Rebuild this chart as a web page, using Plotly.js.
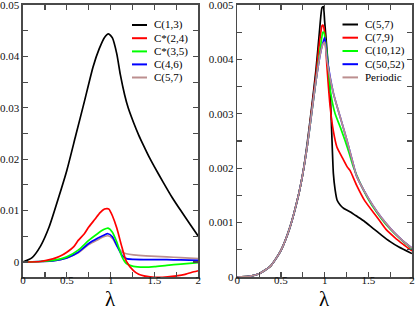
<!DOCTYPE html>
<html>
<head>
<meta charset="utf-8">
<script src="https://cdn.plot.ly/plotly-3.0.1.min.js"></script>
<style>html,body{margin:0;padding:0;background:#fff;}#chart{width:415px;height:310px;}</style>
</head>
<body>
<div id="chart"></div>
<script>
// ---------- Left panel data ----------
const leftNames = ['C(1,3)', 'C*(2,4)', 'C*(3,5)', 'C(4,6)', 'C(5,7)'];
const leftColors = ['#000000', '#ff0000', '#00ff00', '#0000ff', '#bc8f8f'];

const L_C13_x = [0, 0.1, 0.2, 0.3, 0.4, 0.5, 0.6, 0.7, 0.8, 0.87, 0.93, 0.975, 1.02, 1.07, 1.11, 1.16, 1.2, 1.26, 1.32, 1.38, 1.44, 1.5, 1.6, 1.7, 1.8, 1.9, 2.0];
const L_C13_y = [0, 0.0008, 0.0031, 0.0069, 0.0122, 0.0178, 0.0245, 0.0312, 0.038, 0.0415, 0.0437, 0.0444, 0.0436, 0.0405, 0.0365, 0.0325, 0.03, 0.0272, 0.0247, 0.0225, 0.0204, 0.0185, 0.0155, 0.0126, 0.01, 0.0075, 0.005];

const L_C24_x = [0, 0.2, 0.34, 0.42, 0.5, 0.58, 0.63, 0.7, 0.75, 0.82, 0.88, 0.93, 0.96, 0.98, 1.02, 1.07, 1.13, 1.18, 1.26, 1.32, 1.38, 1.45, 1.55, 1.65, 1.75, 1.85, 1.95, 2.0];
const L_C24_y = [0, 0.0001, 0.0006, 0.0011, 0.0019, 0.003, 0.0042, 0.0055, 0.0068, 0.0083, 0.0096, 0.0103, 0.0104, 0.0103, 0.009, 0.0066, 0.0028, 0.0001, -0.0017, -0.0024, -0.0027, -0.0029, -0.003, -0.0029, -0.0027, -0.0024, -0.0019, -0.0017];

const L_C35_x = [0, 0.2, 0.34, 0.5, 0.63, 0.75, 0.85, 0.92, 0.97, 1.02, 1.07, 1.13, 1.18, 1.26, 1.38, 1.5, 1.64, 1.8, 2.0];
const L_C35_y = [0, 0.0001, 0.0003, 0.001, 0.0023, 0.0042, 0.0055, 0.0063, 0.0066, 0.0058, 0.0039, 0.001, -0.0003, -0.00085, -0.001, -0.0009, -0.00065, -0.0004, -0.00013];

const L_C46_x = [0, 0.2, 0.34, 0.5, 0.63, 0.75, 0.85, 0.92, 0.97, 1.02, 1.07, 1.13, 1.18, 1.26, 1.4, 1.64, 1.8, 2.0];
const L_C46_y = [0, 0.0001, 0.0002, 0.0008, 0.0019, 0.0036, 0.0046, 0.0052, 0.0055, 0.0049, 0.0032, 0.0013, 0.00065, 0.0005, 0.00047, 0.00045, 0.0004, 0.0003];

const L_C57_x = [0, 0.2, 0.34, 0.5, 0.63, 0.75, 0.85, 0.92, 0.97, 1.02, 1.07, 1.13, 1.18, 1.26, 1.4, 1.64, 1.8, 2.0];
const L_C57_y = [0, 0.0001, 0.0002, 0.0008, 0.0018, 0.0034, 0.0043, 0.0049, 0.0051, 0.0046, 0.0032, 0.0019, 0.0016, 0.0014, 0.0012, 0.001, 0.00085, 0.00065];

// ---------- Right panel data ----------
const rightNames = ['C(5,7)', 'C(7,9)', 'C(10,12)', 'C(50,52)', 'Periodic'];
const rightColors = ['#000000', '#ff0000', '#00ff00', '#0000ff', '#bc8f8f'];

const R_C57_x = [0, 0.13, 0.25, 0.38, 0.5, 0.6, 0.7, 0.75, 0.8, 0.85, 0.9, 0.94, 0.97, 0.985, 1.0, 1.03, 1.063, 1.08, 1.1, 1.12, 1.143, 1.18, 1.22, 1.3, 1.355, 1.45, 1.55, 1.65, 1.75, 1.85, 2.0];
const R_C57_y = [0, 0.00001, 0.00006, 0.0002, 0.00049, 0.0009, 0.0015, 0.0019, 0.00245, 0.0031, 0.0038, 0.0045, 0.00495, 0.00497, 0.0047, 0.0041, 0.0034, 0.0027, 0.0019, 0.0016, 0.00141, 0.00132, 0.00126, 0.00119, 0.00113, 0.00103, 0.0009, 0.00077, 0.00065, 0.00055, 0.00043];

const R_C79_x = [0, 0.13, 0.25, 0.38, 0.5, 0.6, 0.7, 0.75, 0.8, 0.85, 0.9, 0.94, 0.97, 0.98, 1.0, 1.025, 1.063, 1.1, 1.14, 1.197, 1.26, 1.29, 1.365, 1.46, 1.6, 1.7, 1.8, 1.9, 2.0];
const R_C79_y = [0, 0.00001, 0.00006, 0.0002, 0.00049, 0.0009, 0.0015, 0.0019, 0.0024, 0.00305, 0.0037, 0.0043, 0.00462, 0.00463, 0.0045, 0.0039, 0.00313, 0.00268, 0.00239, 0.00221, 0.00202, 0.00196, 0.00169, 0.0014, 0.0011, 0.00088, 0.00073, 0.0006, 0.00048];

const R_C1012_x = [0, 0.13, 0.25, 0.38, 0.5, 0.6, 0.7, 0.75, 0.8, 0.85, 0.9, 0.95, 0.98, 0.99, 1.02, 1.04, 1.07, 1.12, 1.18, 1.235, 1.28, 1.33, 1.4, 1.5, 1.6, 1.7, 1.8, 1.9, 2.0];
const R_C1012_y = [0, 0.00001, 0.00006, 0.0002, 0.00049, 0.0009, 0.0015, 0.0019, 0.0024, 0.003, 0.0036, 0.0042, 0.0045, 0.0045, 0.0042, 0.0039, 0.00338, 0.003, 0.00275, 0.0025, 0.00228, 0.00202, 0.00175, 0.00143, 0.00118, 0.00097, 0.0008, 0.00065, 0.00052];

const R_C5052_x = [0, 0.13, 0.25, 0.38, 0.5, 0.6, 0.7, 0.75, 0.8, 0.85, 0.9, 0.95, 0.98, 1.0, 1.025, 1.1, 1.178, 1.254, 1.33, 1.365, 1.5, 1.6, 1.7, 1.8, 1.9, 2.0];
const R_C5052_y = [0, 0.00001, 0.00006, 0.0002, 0.00049, 0.0009, 0.0015, 0.0019, 0.0024, 0.003, 0.0036, 0.0041, 0.0043, 0.0044, 0.00405, 0.00338, 0.00294, 0.00252, 0.00206, 0.00186, 0.00145, 0.0012, 0.00099, 0.00081, 0.00066, 0.00053];

const R_Per_x = [0, 0.13, 0.25, 0.38, 0.5, 0.6, 0.7, 0.75, 0.8, 0.85, 0.9, 0.95, 0.98, 1.0, 1.025, 1.1, 1.178, 1.254, 1.33, 1.365, 1.5, 1.6, 1.7, 1.8, 1.9, 2.0];
const R_Per_y = [0, 0.00001, 0.00006, 0.0002, 0.00049, 0.0009, 0.0015, 0.0019, 0.0024, 0.003, 0.0036, 0.0041, 0.00428, 0.00432, 0.0040, 0.00338, 0.00294, 0.00252, 0.00206, 0.00186, 0.00145, 0.0012, 0.00099, 0.00081, 0.00066, 0.00053];

// ---------- Tick labels ----------
const xTickVals = [0, 0.25, 0.5, 0.75, 1, 1.25, 1.5, 1.75, 2];
const xTickText = ['0', '', '0.5', '', '1', '', '1.5', '', '2'];
const yLeftTickVals = [0, 0.005, 0.01, 0.015, 0.02, 0.025, 0.03, 0.035, 0.04, 0.045, 0.05];
const yLeftTickText = ['0', '', '0.01', '', '0.02', '', '0.03', '', '0.04', '', '0.05'];
const yRightTickVals = [0, 0.0005, 0.001, 0.0015, 0.002, 0.0025, 0.003, 0.0035, 0.004, 0.0045, 0.005];
const yRightTickText = ['0', '', '0.001', '', '0.002', '', '0.003', '', '0.004', '', '0.005'];
const xTitle = 'λ';

// ---------- Build ----------
const FONT = 'Liberation Serif, Times New Roman, serif';
const leftX = [L_C13_x, L_C24_x, L_C35_x, L_C46_x, L_C57_x];
const leftY = [L_C13_y, L_C24_y, L_C35_y, L_C46_y, L_C57_y];
const rightX = [R_C57_x, R_C79_x, R_C1012_x, R_C5052_x, R_Per_x];
const rightY = [R_C57_y, R_C79_y, R_C1012_y, R_C5052_y, R_Per_y];

const traces = [];
const leftOrder = [4, 3, 2, 1, 0];
leftOrder.forEach(i => traces.push({
  x: leftX[i], y: leftY[i], xaxis: 'x', yaxis: 'y', type: 'scatter', mode: 'lines',
  name: leftNames[i], showlegend: false,
  line: {color: leftColors[i], width: 1.7, shape: 'spline', smoothing: 0.6}
}));
const rightOrder = [0, 1, 2, 3, 4];
rightOrder.forEach(i => traces.push({
  x: rightX[i], y: rightY[i], xaxis: 'x2', yaxis: 'y2', type: 'scatter', mode: 'lines',
  name: rightNames[i], showlegend: false,
  line: {color: rightColors[i], width: 1.7, shape: 'spline', smoothing: 0.6}
}));

const W = 415, H = 310, ML = 23, MR = 3, MT = 5, MB = 33;
const PW = W - ML - MR, PH = H - MT - MB;
const px = v => (v - ML) / PW;
const py = v => (H - MB - v) / PH;

const shapes = [];
const annotations = [];
function addLegend(names, colors, x0, x1, xt, rows) {
  names.forEach((n, i) => {
    shapes.push({type: 'line', xref: 'paper', yref: 'paper', x0: px(x0), x1: px(x1), y0: py(rows[i]), y1: py(rows[i]),
      line: {color: colors[i], width: 2}});
    annotations.push({xref: 'paper', yref: 'paper', x: px(xt), y: py(rows[i]), text: n, showarrow: false,
      xanchor: 'left', yanchor: 'middle', font: {family: FONT, size: 11, color: '#000'}});
  });
}
addLegend(leftNames, leftColors, 132, 147, 152, [25, 38.2, 51.4, 64.4, 77.5]);
addLegend(rightNames, rightColors, 342.5, 358, 362.5, [24.5, 37.7, 51, 64.2, 77.4]);

// axis titles (λ) placed below each panel
[[110.8], [324.5]].forEach(([cx]) => {
  annotations.push({xref: 'paper', yref: 'paper', x: px(cx), y: py(298.5), text: xTitle, showarrow: false,
    xanchor: 'center', yanchor: 'middle', font: {family: FONT, size: 21, color: '#000'}});
});

const axisCommon = {
  showline: true, linecolor: '#4a4a4a', linewidth: 1.6, mirror: 'allticks',
  ticks: 'inside', ticklen: 5, tickwidth: 1.2, tickcolor: '#4a4a4a',
  showgrid: false, zeroline: false, tickmode: 'array', ticklabeloverflow: 'allow',
  tickfont: {family: FONT, size: 11, color: '#111'}, fixedrange: true
};

const layout = {
  width: W, height: H, margin: {l: ML, r: MR, t: MT, b: MB},
  paper_bgcolor: '#fff', plot_bgcolor: '#fff', showlegend: false,
  xaxis: Object.assign({}, axisCommon, {domain: [0, px(198.3)], range: [0, 2.000001], anchor: 'y',
    tickvals: xTickVals, ticktext: xTickText, ticklabelstandoff: -8}),
  yaxis: Object.assign({}, axisCommon, {domain: [0, 1], range: [-0.00292, 0.0500002], anchor: 'x',
    tickvals: yLeftTickVals, ticktext: yLeftTickText}),
  xaxis2: Object.assign({}, axisCommon, {domain: [px(237.3), 1], range: [0, 2.000001], anchor: 'y2',
    tickvals: xTickVals, ticktext: xTickText, ticklabelstandoff: -8}),
  yaxis2: Object.assign({}, axisCommon, {domain: [0, 1], range: [0, 0.00500002], anchor: 'x2',
    tickvals: yRightTickVals, ticktext: yRightTickText}),
  shapes: shapes, annotations: annotations
};

Plotly.newPlot('chart', traces, layout, {staticPlot: true, displayModeBar: false});
</script>
</body>
</html>
